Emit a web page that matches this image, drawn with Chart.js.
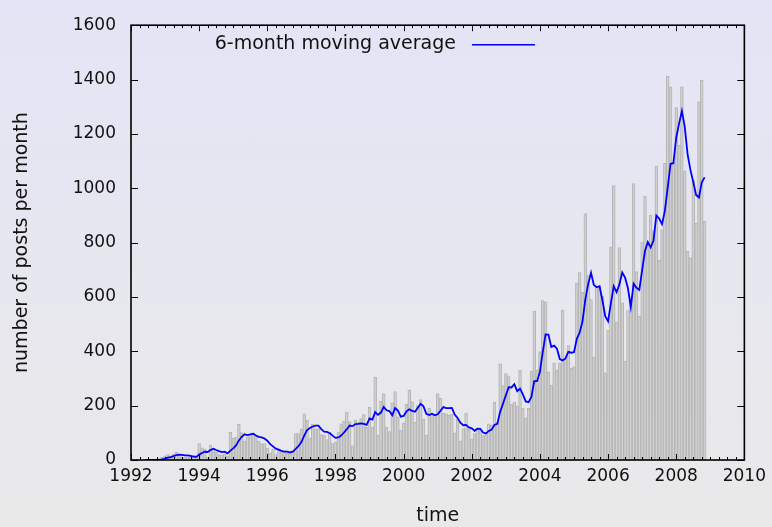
<!DOCTYPE html>
<html><head><meta charset="utf-8">
<script src="https://cdn.jsdelivr.net/npm/chart.js@4.4.1/dist/chart.umd.min.js"></script>
<style>
html,body{margin:0;padding:0;width:772px;height:527px;overflow:hidden;
background:linear-gradient(to bottom,#e4e4f6 0%,#e9e9e9 100%);}
canvas{display:block}
</style></head><body>
<canvas id="c" width="772" height="527"></canvas>
<script>
// ---- data ----
const startYear = 1992;          // first month in the series = January 1992
const monthsPerYear = 12;
const postsPerMonth = [
  0,0,0,0,0,0,0,0,0,0,
  5,10,15,20,15,22,28,18,10,10,
  12,15,12,10,60,45,40,10,55,40,
  30,20,18,22,15,102,80,83,131,101,
  70,85,95,100,90,70,60,60,45,25,
  40,20,38,33,30,25,25,35,97,97,
  115,170,146,80,132,115,115,94,91,75,
  103,60,65,103,133,143,176,141,52,147,
  140,152,167,120,194,121,304,92,216,244,
  120,105,210,252,159,110,137,205,258,215,
  140,200,222,150,91,191,167,165,244,228,
  173,170,165,168,100,150,70,115,173,113,
  77,97,115,113,90,94,133,129,213,140,
  354,274,318,310,206,213,199,330,191,155,
  190,327,548,330,399,587,582,324,276,358,
  331,357,552,370,421,338,344,651,690,617,
  907,680,590,380,639,641,603,321,478,784,
  1010,508,782,578,364,550,600,1017,693,530,
  802,971,799,901,844,1082,735,847,1092,1412,
  1373,1094,1297,1158,1373,1064,768,745,1030,871,
  1318,1397,878
];
const maWindow = 6;
const xTickYears = [1992,1994,1996,1998,2000,2002,2004,2006,2008,2010];
const yTickValues = [0,200,400,600,800,1000,1200,1400,1600];
const seriesLabel = '6-month moving average';
const xTitle = 'time';
const yTitle = 'number of posts per month';

// ---- derived points ----
const barPoints = postsPerMonth.map((v, i) => ({x: startYear + i / monthsPerYear, y: v}));
const maPoints = [];
for (let i = maWindow - 1; i < postsPerMonth.length; i++) {
  let s = 0;
  for (let k = i - maWindow + 1; k <= i; k++) s += postsPerMonth[k];
  maPoints.push({x: startYear + i / monthsPerYear, y: s / maWindow});
}

const FONT = 'DejaVu Sans';

const frameAndKey = {
  id: 'frameAndKey',
  afterDatasetsDraw(chart) {
    const {ctx, chartArea: a, scales: {x, y}} = chart;
    ctx.save();
    ctx.strokeStyle = '#000';
    ctx.lineWidth = 1;
    ctx.beginPath();
    const xMin = xTickYears[0], xMax = xTickYears[xTickYears.length - 1];
    for (let q = 0; q <= (xMax - xMin) * 4; q++) {
      const t = xMin + q / 4;
      const px = Math.round(x.getPixelForValue(t)) + 0.5;
      const L = (q % 8 === 0) ? 6 : 3;
      ctx.moveTo(px, a.bottom); ctx.lineTo(px, a.bottom - L);
      ctx.moveTo(px, a.top); ctx.lineTo(px, a.top + L);
    }
    for (const v of yTickValues) {
      const py = Math.round(y.getPixelForValue(v)) + 0.5;
      ctx.moveTo(a.left, py); ctx.lineTo(a.left + 7, py);
      ctx.moveTo(a.right, py); ctx.lineTo(a.right - 7, py);
    }
    ctx.stroke();
    ctx.lineWidth = 1.6;
    ctx.strokeRect(a.left, a.top, a.right - a.left, a.bottom - a.top);
    // key
    ctx.font = '19px "' + FONT + '"';
    ctx.fillStyle = '#111';
    ctx.textAlign = 'right';
    ctx.textBaseline = 'middle';
    const ky = a.top + 19;
    ctx.fillText(seriesLabel, a.left + 325, ky);
    ctx.strokeStyle = '#0000ff';
    ctx.lineWidth = 1.6;
    ctx.beginPath();
    ctx.moveTo(a.left + 341, ky + 0.5);
    ctx.lineTo(a.left + 404, ky + 0.5);
    ctx.stroke();
    ctx.restore();
  }
};

new Chart(document.getElementById('c'), {
  type: 'bar',
  data: {
    datasets: [
      {
        type: 'line',
        label: seriesLabel,
        data: maPoints,
        borderColor: '#0000ff',
        borderWidth: 1.8,
        pointRadius: 0,
        tension: 0,
        fill: false,
        order: 0
      },
      {
        type: 'bar',
        label: 'posts',
        data: barPoints,
        backgroundColor: 'rgba(240,240,240,0.35)',
        borderColor: '#b6b6b6',
        borderWidth: 1,
        barPercentage: 1,
        categoryPercentage: 1,
        order: 1
      }
    ]
  },
  options: {
    responsive: false,
    animation: false,
    devicePixelRatio: 1,
    layout: {padding: {top: 18, right: 26, left: 0, bottom: 0}},
    plugins: {legend: {display: false}, tooltip: {enabled: false}},
    scales: {
      x: {
        type: 'linear',
        offset: false,
        min: xTickYears[0],
        max: xTickYears[xTickYears.length - 1],
        afterBuildTicks: s => { s.ticks = xTickYears.map(v => ({value: v})); },
        afterFit: s => { s.height = 67; },
        grid: {display: false, drawTicks: false, offset: false},
        border: {display: false},
        ticks: {
          font: {family: FONT, size: 17},
          color: '#111',
          padding: 6,
          maxRotation: 0,
          autoSkip: false,
          callback: v => String(v)
        },
        title: {display: true, text: xTitle, font: {family: FONT, size: 19}, color: '#111', padding: {top: 0, bottom: 0}}
      },
      y: {
        min: yTickValues[0],
        max: yTickValues[yTickValues.length - 1],
        afterBuildTicks: s => { s.ticks = yTickValues.map(v => ({value: v})); },
        afterFit: s => { s.width = 131; },
        grid: {display: false, drawTicks: false},
        border: {display: false},
        ticks: {
          font: {family: FONT, size: 17},
          color: '#111',
          padding: 15,
          callback: v => String(v)
        },
        title: {display: true, text: yTitle, font: {family: FONT, size: 19}, color: '#111', padding: {top: 11, bottom: 0}}
      }
    }
  },
  plugins: [frameAndKey]
});
</script>
</body></html>
